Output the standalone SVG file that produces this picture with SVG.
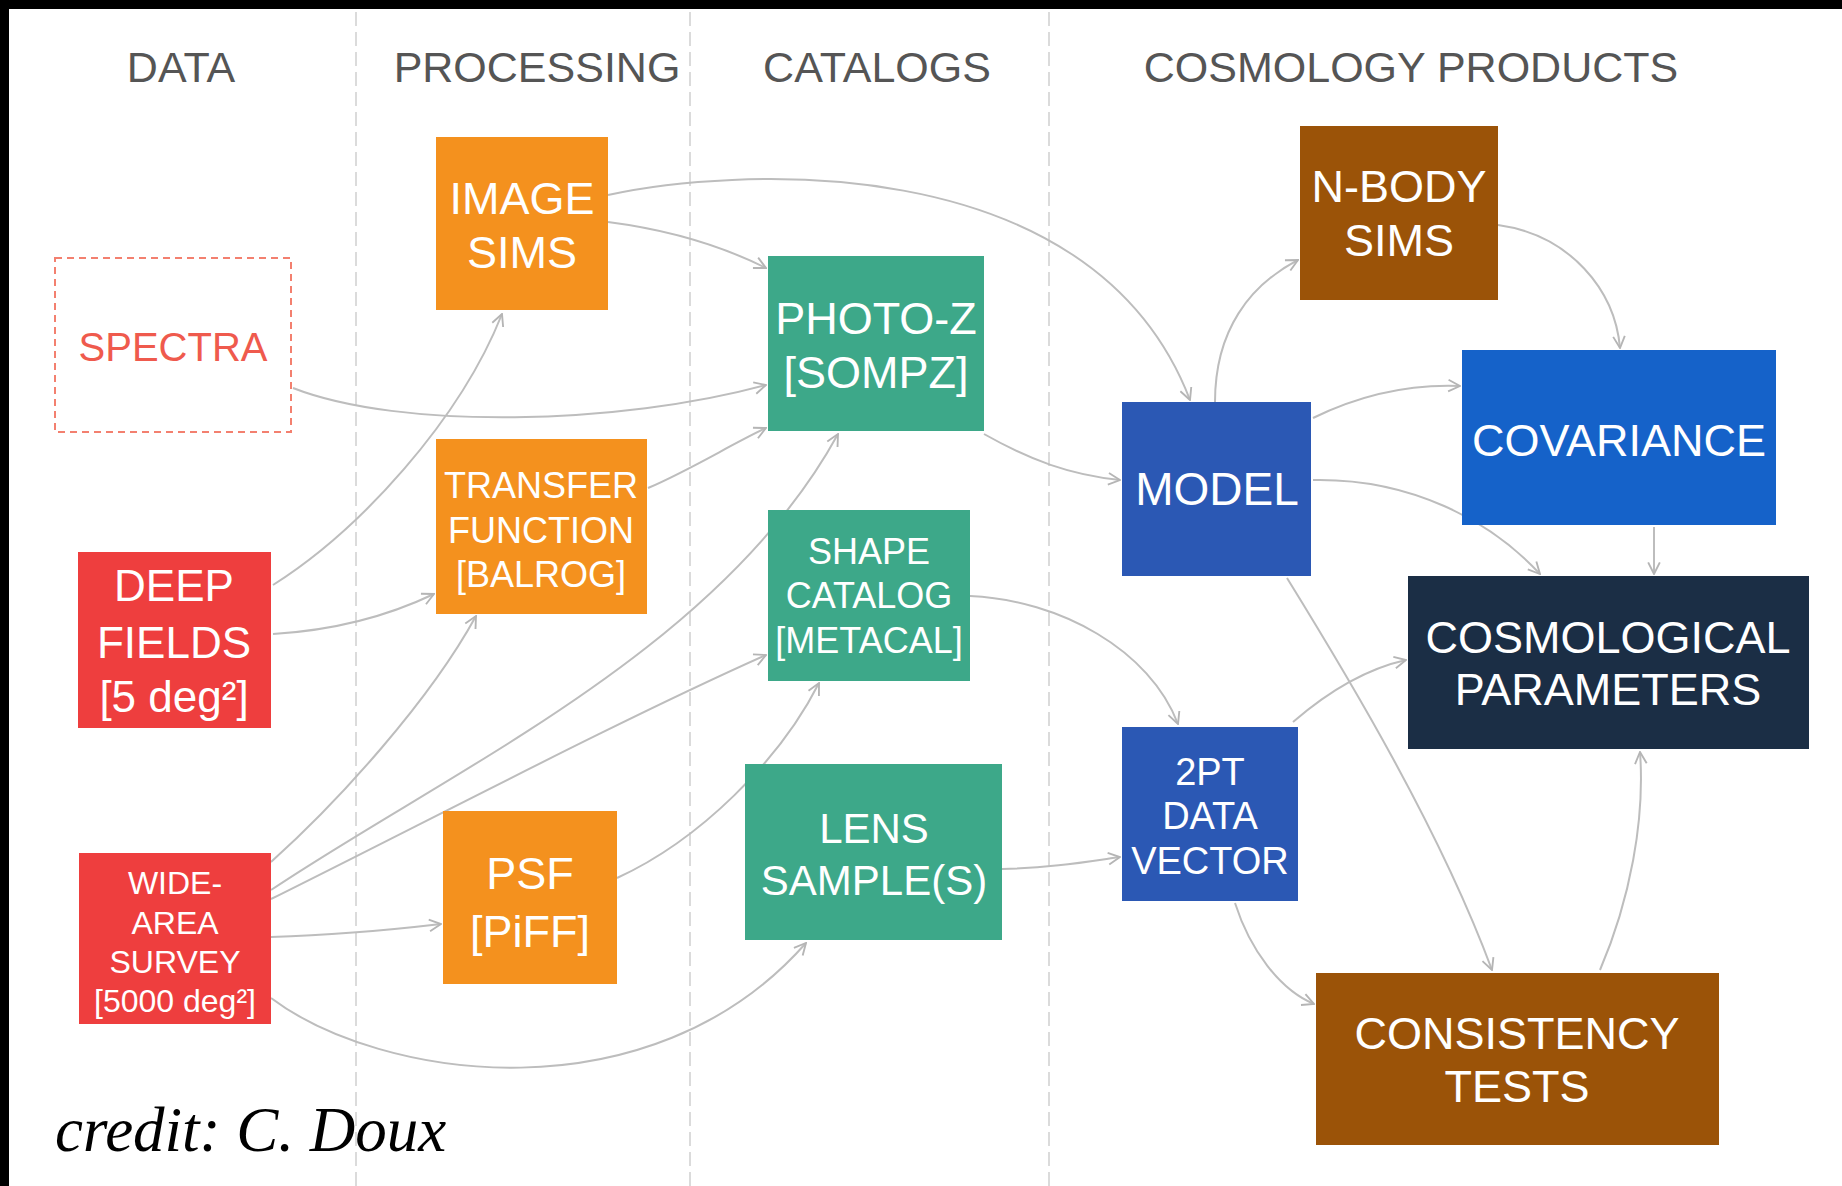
<svg xmlns="http://www.w3.org/2000/svg" width="1842" height="1186" viewBox="0 0 1842 1186">
<defs>
<style>
.hdr{font-family:"Liberation Sans",Arial,sans-serif;font-size:43px;fill:#555;text-anchor:middle}
.lbl{font-family:"Liberation Sans",Arial,sans-serif;fill:#fff;text-anchor:middle}
.sep{stroke:#cfcfcf;stroke-width:1.5;stroke-dasharray:14 6;fill:none}
.con path{fill:none;stroke:#bdbdbd;stroke-width:2;marker-end:url(#arr)}
.orange{fill:#F4911E}
.red{fill:#EE3E3E}
.green{fill:#3DA889}
.blue{fill:#2B58B4}
.bblue{fill:#1562C9}
.navy{fill:#1B2E45}
.brown{fill:#9B5308}
</style>
<marker id="arr" viewBox="0 0 12 12" refX="11" refY="6" markerWidth="14" markerHeight="14" markerUnits="userSpaceOnUse" orient="auto">
<path d="M1,1 L11,6 L1,11" fill="none" stroke="#b5b5b5" stroke-width="1.6"/>
</marker>
</defs>
<rect x="0" y="0" width="1842" height="1186" fill="#fff"/>
<rect x="0" y="0" width="1842" height="9" fill="#000"/>
<rect x="0" y="0" width="9" height="1186" fill="#000"/>

<g id="separators">
<line class="sep" x1="356" y1="12" x2="356" y2="1186"/>
<line class="sep" x1="690" y1="12" x2="690" y2="1186"/>
<line class="sep" x1="1049" y1="12" x2="1049" y2="1186"/>
</g>

<g id="headers">
<text class="hdr" x="181" y="82">DATA</text>
<text class="hdr" x="537" y="82">PROCESSING</text>
<text class="hdr" x="877" y="82">CATALOGS</text>
<text class="hdr" x="1411" y="82">COSMOLOGY PRODUCTS</text>
</g>

<g id="connectors" class="con">
<path d="M608,195 C720,170 1090,140 1190,400"/>
<path d="M608,222 C670,230 720,245 766,268"/>
<path d="M293,388 C400,430 620,425 766,385"/>
<path d="M273,585 C360,530 460,420 502,314"/>
<path d="M273,634 C340,630 390,615 434,594"/>
<path d="M648,488 C690,470 730,445 766,428"/>
<path d="M271,862 C340,800 430,700 476,616"/>
<path d="M271,890 C450,770 720,650 838,434"/>
<path d="M271,899 C430,820 620,720 766,655"/>
<path d="M271,937 C340,935 390,930 441,924"/>
<path d="M271,998 C380,1080 650,1120 806,943"/>
<path d="M617,878 C700,840 780,760 819,683"/>
<path d="M984,434 C1030,460 1070,475 1120,480"/>
<path d="M970,596 C1060,600 1150,650 1178,724"/>
<path d="M1002,869 C1050,868 1085,862 1120,857"/>
<path d="M1215,402 C1215,330 1250,285 1298,260"/>
<path d="M1498,225 C1570,235 1615,290 1620,348"/>
<path d="M1313,418 C1360,395 1410,384 1460,386"/>
<path d="M1313,480 C1410,478 1490,520 1540,574"/>
<path d="M1654,527 L1654,574"/>
<path d="M1287,578 C1350,680 1440,830 1492,970"/>
<path d="M1293,722 C1330,690 1370,668 1406,660"/>
<path d="M1235,903 C1250,950 1280,990 1314,1004"/>
<path d="M1600,970 C1630,900 1645,820 1640,752"/>
</g>

<g id="spectra">
<rect x="55" y="258" width="236" height="174" fill="#fff" stroke="#F3806F" stroke-width="2" stroke-dasharray="7 5"/>
<text class="lbl" x="173" y="361" font-size="40" style="fill:#EF5A4D">SPECTRA</text>
</g>

<g id="deep-fields">
<rect class="red" x="78" y="552" width="193" height="176"/>
<text class="lbl" font-size="44"><tspan x="174" y="601">DEEP</tspan><tspan x="174" y="658">FIELDS</tspan><tspan x="174" y="712">[5 deg²]</tspan></text>
</g>

<g id="wide-area-survey">
<rect class="red" x="79" y="853" width="192" height="171"/>
<text class="lbl" font-size="32"><tspan x="175" y="894">WIDE-</tspan><tspan x="175" y="934">AREA</tspan><tspan x="175" y="973">SURVEY</tspan><tspan x="175" y="1012">[5000 deg²]</tspan></text>
</g>

<g id="image-sims">
<rect class="orange" x="436" y="137" width="172" height="173"/>
<text class="lbl" font-size="45"><tspan x="522" y="214">IMAGE</tspan><tspan x="522" y="268">SIMS</tspan></text>
</g>

<g id="transfer-function">
<rect class="orange" x="436" y="439" width="211" height="175"/>
<text class="lbl" font-size="36"><tspan x="541" y="498">TRANSFER</tspan><tspan x="541" y="543">FUNCTION</tspan><tspan x="541" y="587">[BALROG]</tspan></text>
</g>

<g id="psf">
<rect class="orange" x="443" y="811" width="174" height="173"/>
<text class="lbl" font-size="45"><tspan x="530" y="889">PSF</tspan><tspan x="530" y="947">[PiFF]</tspan></text>
</g>

<g id="photo-z">
<rect class="green" x="768" y="256" width="216" height="175"/>
<text class="lbl" font-size="45"><tspan x="876" y="334">PHOTO-Z</tspan><tspan x="876" y="388">[SOMPZ]</tspan></text>
</g>

<g id="shape-catalog">
<rect class="green" x="768" y="510" width="202" height="171"/>
<text class="lbl" font-size="36"><tspan x="869" y="564">SHAPE</tspan><tspan x="869" y="608">CATALOG</tspan><tspan x="869" y="653">[METACAL]</tspan></text>
</g>

<g id="lens-sample">
<rect class="green" x="745" y="764" width="257" height="176"/>
<text class="lbl" font-size="42"><tspan x="874" y="843">LENS</tspan><tspan x="874" y="895">SAMPLE(S)</tspan></text>
</g>

<g id="model">
<rect class="blue" x="1122" y="402" width="189" height="174"/>
<text class="lbl" font-size="46" x="1217" y="505">MODEL</text>
</g>

<g id="twopt-data-vector">
<rect class="blue" x="1122" y="727" width="176" height="174"/>
<text class="lbl" font-size="38"><tspan x="1210" y="785">2PT</tspan><tspan x="1210" y="829">DATA</tspan><tspan x="1210" y="874">VECTOR</tspan></text>
</g>

<g id="n-body-sims">
<rect class="brown" x="1300" y="126" width="198" height="174"/>
<text class="lbl" font-size="45"><tspan x="1399" y="202">N-BODY</tspan><tspan x="1399" y="256">SIMS</tspan></text>
</g>

<g id="covariance">
<rect class="bblue" x="1462" y="350" width="314" height="175"/>
<text class="lbl" font-size="45" x="1619" y="456">COVARIANCE</text>
</g>

<g id="cosmological-parameters">
<rect class="navy" x="1408" y="576" width="401" height="173"/>
<text class="lbl" font-size="45"><tspan x="1608" y="653">COSMOLOGICAL</tspan><tspan x="1608" y="705">PARAMETERS</tspan></text>
</g>

<g id="consistency-tests">
<rect class="brown" x="1316" y="973" width="403" height="172"/>
<text class="lbl" font-size="45"><tspan x="1517" y="1049">CONSISTENCY</tspan><tspan x="1517" y="1102">TESTS</tspan></text>
</g>

<text x="55" y="1151" font-family="'Liberation Serif','Times New Roman',serif" font-style="italic" font-size="63" fill="#000">credit: C. Doux</text>
</svg>
